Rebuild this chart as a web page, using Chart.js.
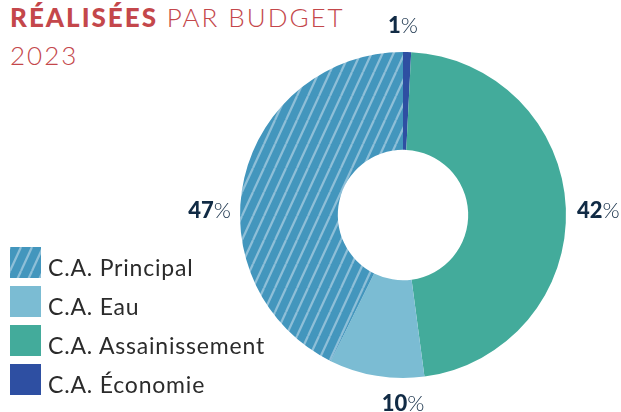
<!DOCTYPE html>
<html lang="fr">
<head>
<meta charset="utf-8">
<script src="https://cdn.jsdelivr.net/npm/chart.js@4"></script>
<style>
  body { margin: 0; width: 621px; height: 412px; position: relative; background: #fff; overflow: hidden; font-family: Lato, sans-serif; }
  #chartBox { position: absolute; left: 0; top: 0; width: 621px; height: 412px; }
  #title { position: absolute; left: 10px; top: -2px; color: #c4474b; font-size: 26px; line-height: 38px; letter-spacing: 2px; white-space: nowrap; }
  #title b { font-weight: 900; }
  #title span { font-weight: 300; }
  #legend { position: absolute; left: 10px; top: 247px; }
  .item { display: flex; align-items: flex-start; height: 31px; margin-bottom: 8px; font-size: 23px; letter-spacing: 0.8px; color: #2b2b2b; white-space: nowrap; }
  .item canvas { width: 31px; height: 31px; margin-right: 7px; }
  .item span { line-height: 31px; position: relative; top: 5px; }
</style>
</head>
<body>
<div id="title"><b>RÉALISÉES</b> <span>PAR BUDGET<br>2023</span></div>
<div id="chartBox"><canvas id="chart" width="621" height="412"></canvas></div>
<div id="legend"></div>
<script>
// slices clockwise from the top
const categories = ['C.A. Économie', 'C.A. Assainissement', 'C.A. Eau', 'C.A. Principal'];
// slice sizes as drawn in the picture
const shares = [0.8, 47.1, 9.4, 42.7];
// percentages printed beside the slices (as printed)
const printed = ['1', '42', '10', '47'];
const colors = ['#2e4fa2', '#43ab9b', '#7bbcd3', 'hatch'];
const legendOrder = [3, 2, 1, 0];

function makeHatch() {
    let tile = document.createElement('canvas');
    tile.width = 11; tile.height = 24;
    let c = tile.getContext('2d');
    c.fillStyle = '#4396bd';
    c.fillRect(0, 0, 11, 24);
    c.strokeStyle = '#8ebfd8';
    c.lineWidth = 2.2;
    [-11, 0, 11].forEach(function (off) {
        c.beginPath();
        c.moveTo(off, 24);
        c.lineTo(off + 11, 0);
        c.stroke();
    });
    return c.createPattern(tile, 'repeat');
}

let hatch = makeHatch();
let fills = colors.map(function (col) { return col === 'hatch' ? hatch : col; });

// percent labels, snapped to the nearest side of the ring
const pctLabels = {
    id: 'pctLabels',
    afterDatasetsDraw(chart) {
        let ctx = chart.ctx;
        chart.getDatasetMeta(0).data.forEach(function (arc, i) {
            let mid = (arc.startAngle + arc.endAngle) / 2;
            let dx = Math.cos(mid), dy = Math.sin(mid);
            let r = arc.outerRadius;
            let x, y, align;
            if (Math.abs(dx) > Math.abs(dy)) {
                align = dx > 0 ? 'left' : 'right';
                x = arc.x + (dx > 0 ? r + 11 : -r - 9);
                y = arc.y + 3;
            } else {
                align = 'center';
                x = arc.x;
                y = dy < 0 ? arc.y - r - 19 : arc.y + r + 33;
            }
            ctx.save();
            ctx.fillStyle = '#112b45';
            ctx.textBaseline = 'alphabetic';
            ctx.textAlign = 'left';
            let numFont = '900 22px Lato', pctFont = '300 22px Lato';
            ctx.font = numFont;
            let wNum = ctx.measureText(printed[i]).width;
            ctx.font = pctFont;
            let wPct = ctx.measureText('%').width;
            let total = wNum + wPct;
            let start = align === 'left' ? x : align === 'right' ? x - total : x - total / 2;
            ctx.font = numFont;
            ctx.fillText(printed[i], start, y);
            ctx.font = pctFont;
            ctx.fillText('%', start + wNum, y);
            ctx.restore();
        });
    }
};

new Chart(document.getElementById('chart'), {
    type: 'doughnut',
    data: {
        labels: categories,
        datasets: [{
            data: shares,
            backgroundColor: fills,
            borderWidth: 0
        }]
    },
    options: {
        responsive: false,
        animation: false,
        cutout: '40%',
        layout: { padding: { left: 240, right: 55, top: 52, bottom: 34 } },
        plugins: {
            legend: { display: false },
            tooltip: { enabled: false }
        }
    },
    plugins: [pctLabels]
});

// legend
let legend = document.getElementById('legend');
legendOrder.forEach(function (i) {
    let row = document.createElement('div');
    row.className = 'item';
    let sw = document.createElement('canvas');
    sw.width = 31; sw.height = 31;
    let sc = sw.getContext('2d');
    sc.fillStyle = fills[i];
    sc.fillRect(0, 0, 31, 31);
    row.appendChild(sw);
    let txt = document.createElement('span');
    txt.textContent = categories[i];
    row.appendChild(txt);
    legend.appendChild(row);
});
</script>
</body>
</html>
